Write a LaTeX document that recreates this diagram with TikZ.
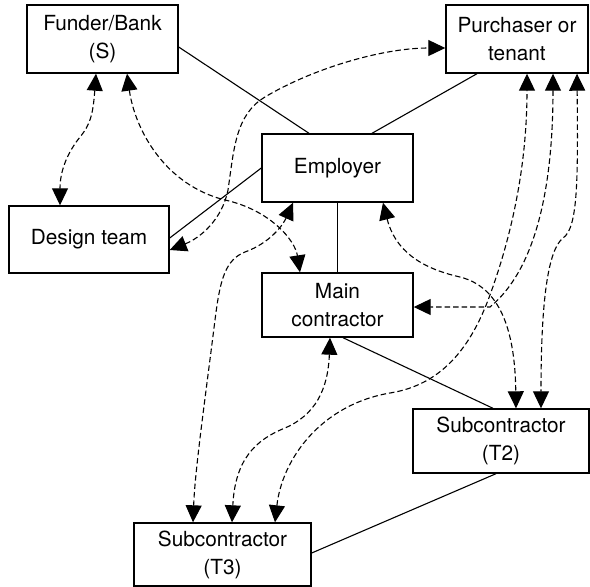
\documentclass[tikz,border=0pt]{standalone}
\usepackage{fontspec}
\setmainfont{TeX Gyre Heros}
\usetikzlibrary{arrows.meta}
\tikzset{bigtip/.tip={Triangle[length=17pt,width=16pt]}}
\begin{document}
\begin{tikzpicture}[x=1pt,y=-1pt,
  party/.style={draw, line width=1.4pt, inner sep=0pt, align=center,
    font=\fontsize{20.8}{28}\selectfont},
  link/.style={line width=1.1pt},
  flow/.style={line width=1.1pt, dash pattern=on 5.5pt off 3pt, bigtip-bigtip}]
\useasboundingbox (0,0) rectangle (590,587);

% parties
\node[party, minimum width=151pt, minimum height=68pt] (fund) at (102.5,39) {Funder/Bank\\(S)};
\node[party, minimum width=142pt, minimum height=68pt] (pur) at (517,39) {Purchaser or\\tenant};
\node[party, minimum width=151pt, minimum height=68pt] (emp) at (337.5,168) {Employer};
\node[party, minimum width=160pt, minimum height=67pt] (des) at (89,239.5) {Design team};
\node[party, minimum width=151pt, minimum height=64pt] (main) at (337.5,305) {Main\\contractor};
\node[party, minimum width=176pt, minimum height=64pt] (tt) at (501,441) {Subcontractor\\(T2)};
\node[party, minimum width=177pt, minimum height=63pt] (tth) at (222.5,554.5) {Subcontractor\\(T3)};

% contractual links
\draw[link] ([yshift=-8pt]fund.east) -- ([xshift=-28.5pt]emp.north);
\draw[link] ([xshift=-40pt]pur.south) -- ([xshift=34.5pt]emp.north);
\draw[link] (emp.west) -- ([yshift=1.5pt]des.east);
\draw[link] (emp.south) -- (main.north);
\draw[link] ([xshift=5.5pt]main.south) -- ([xshift=-8pt]tt.north);
\draw[link] ([xshift=-5pt]tt.south) -- ([yshift=1.5pt]tth.east);

% warranty / collateral flows
\draw[flow] ([xshift=-6.5pt]fund.south) .. controls (93,115) and (90,125) .. (80,137)
  .. controls (68,152) and (60,170) .. ([xshift=-29pt]des.north);
\draw[flow] ([xshift=24.5pt]fund.south) .. controls (135,130) and (165,185) .. (225,200)
  .. controls (270,210) and (295,240) .. ([xshift=-37.5pt]main.north);
\draw[flow] ([yshift=-10.5pt]des.east) .. controls (200,238) and (222,220) .. (228,190)
  .. controls (234,150) and (235,115) .. (265,97)
  .. controls (310,70) and (380,48) .. ([yshift=-9pt]pur.west);
\draw[flow] ([xshift=-44.5pt]emp.south) .. controls (283,225) and (270,243) .. (245,252)
  .. controls (225,260) and (220,280) .. (215,320)
  .. controls (205,400) and (195,470) .. ([xshift=-29.5pt]tth.north);
\draw[flow] ([xshift=-7.5pt]main.south) .. controls (328,390) and (315,415) .. (285,428)
  .. controls (255,440) and (235,460) .. ([xshift=9.5pt]tth.north);
\draw[flow] ([xshift=52.5pt]tth.north) .. controls (282,460) and (320,405) .. (390,393)
  .. controls (440,385) and (470,350) .. (490,295)
  .. controls (510,240) and (527,170) .. ([xshift=10pt]pur.south);
\draw[flow] ([xshift=36pt]pur.south) .. controls (553,190) and (535,270) .. (490,307)
  -- ([yshift=-2pt]main.east);
\draw[flow] ([xshift=45.5pt]emp.south) .. controls (395,250) and (420,268) .. (460,277)
  .. controls (500,287) and (515,330) .. ([xshift=15pt]tt.north);
\draw[flow] ([xshift=60pt]pur.south) .. controls (578,180) and (578,228) .. (563,238)
  .. controls (548,250) and (541,300) .. ([xshift=40pt]tt.north);
\end{tikzpicture}
\end{document}
